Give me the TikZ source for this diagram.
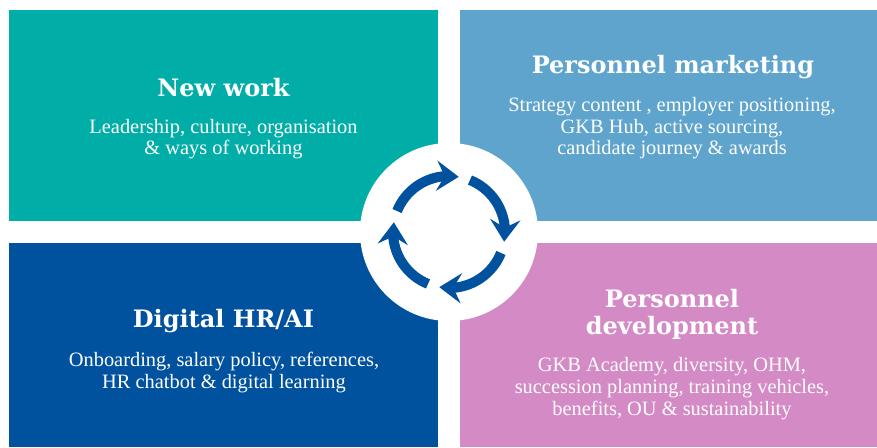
\documentclass[tikz,border=0pt]{standalone}
\usepackage{fontspec}
\setmainfont{Liberation Serif}
\newfontfamily\headfont{DejaVu Serif}
\usetikzlibrary{arrows.meta,bending}

\definecolor{gkbteal}{HTML}{00AEA7}
\definecolor{gkbsky}{HTML}{5FA4CD}
\definecolor{gkbblue}{HTML}{00529F}
\definecolor{gkbpink}{HTML}{D38AC5}

\begin{document}
\begin{tikzpicture}[x=1pt,y=1pt,
  box/.style={rectangle, inner sep=0pt, anchor=south west},
  heading/.style={text=white, anchor=base, align=center, font=\headfont\bfseries\fontsize{24}{27}\selectfont},
  body/.style={text=white, anchor=base, align=center, font=\fontsize{20.4}{21.7}\selectfont},
  cyclearrow/.style={draw=gkbblue, line width=10pt, -{Stealth[length=22pt,width=30pt,inset=8pt,flex]}}]
\useasboundingbox (0,0) rectangle (877,447);

% the four fields
\node (newwork) [box, fill=gkbteal, minimum width=429pt, minimum height=210.3pt] at (9,226) {};
\node (marketing) [box, fill=gkbsky, minimum width=417pt, minimum height=210.3pt] at (460,226) {};
\node (digital) [box, fill=gkbblue, minimum width=429pt, minimum height=203.7pt] at (9,0) {};
\node (development) [box, fill=gkbpink, minimum width=417pt, minimum height=203.7pt] at (460,0) {};

% texts (base = last line)
\node (newworktitle) [heading] at (223.5,350) {New work};
\node (newworktext) [body] at (223.5,292) {Leadership, culture, organisation\\\& ways of working};
\node (marketingtitle) [heading] at (673,373) {Personnel marketing};
\node (marketingtext) [body] at (672,292) {Strategy content , employer positioning,\\GKB Hub, active sourcing,\\candidate journey \& awards};
\node (digitaltitle) [heading] at (223.5,119) {Digital HR/AI};
\node (digitaltext) [body] at (224,59) {Onboarding, salary policy, references,\\HR chatbot \& digital learning};
\node (developmenttitle) [heading] at (672,113) {Personnel\\development};
\node (developmenttext) [body] at (672,32) {GKB Academy, diversity, OHM,\\succession planning, training vehicles,\\benefits, OU \& sustainability};

% centre with the cycle
\node (hub) [circle, fill=white, minimum size=178pt, inner sep=0pt] at (449,215) {};
\foreach \s in {158,68,-22,-112}
  \draw [cyclearrow] ([shift={(\s:56)}]hub.center) arc [start angle=\s, end angle=\s-78, radius=56];
\end{tikzpicture}
\end{document}
